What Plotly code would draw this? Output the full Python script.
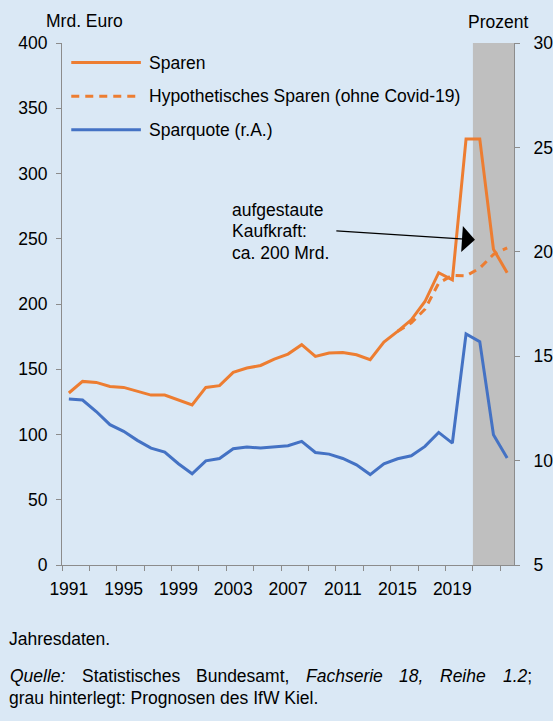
import plotly.graph_objects as go

# ---------------- data ----------------
years = list(range(1991, 2024))

sparen = [131.8, 140.7, 139.9, 136.8, 136.1, 133.0, 130.2, 130.2, 126.4, 122.6,
          136.1, 137.4, 147.6, 150.9, 152.9, 157.8, 161.6, 168.8, 159.8, 162.4,
          162.9, 161.1, 157.3, 170.8, 179.0, 187.9, 201.9, 224.0, 218.5, 326.5,
          326.5, 242.0, 224.0]

hypo_years = list(range(2015, 2024))
hypo_sparen = [179.0, 185.5, 196.0, 216.0, 222.0, 221.5, 227.5, 238.0, 243.0]

sparquote = [12.95, 12.9, 12.35, 11.72, 11.4, 10.97, 10.6, 10.41, 9.85, 9.37,
             9.99, 10.1, 10.57, 10.65, 10.6, 10.65, 10.71, 10.92, 10.39, 10.31,
             10.1, 9.8, 9.33, 9.85, 10.09, 10.23, 10.68, 11.35, 10.84, 16.07,
             15.7, 11.24, 10.12]

label_years = [1991, 1995, 1999, 2003, 2007, 2011, 2015, 2019]
left_ticks = [0, 50, 100, 150, 200, 250, 300, 350, 400]
right_ticks = [5, 10, 15, 20, 25, 30]
forecast_start, forecast_end = 2021, 2023

legend_names = ["Sparen", "Hypothetisches Sparen (ohne Covid-19)", "Sparquote (r.A.)"]

# ---------------- style ----------------
ORANGE = "#ED7D31"
BLUE = "#4472C4"
GREY = "#BFBFBF"
AXIS = "#8C8C8C"
BG = "#DAE8F5"
FONT = "Liberation Sans, Arial, sans-serif"
FS = 17.5

fig = go.Figure()

fig.add_trace(go.Scatter(x=years, y=sparen, mode="lines", name=legend_names[0],
                         line=dict(color=ORANGE, width=3), yaxis="y"))
fig.add_trace(go.Scatter(x=hypo_years, y=hypo_sparen, mode="lines", name=legend_names[1],
                         line=dict(color=ORANGE, width=3, dash="8px,6px"), yaxis="y"))
fig.add_trace(go.Scatter(x=years, y=sparquote, mode="lines", name=legend_names[2],
                         line=dict(color=BLUE, width=3), yaxis="y2"))

# forecast shading
fig.add_shape(type="rect", xref="x", yref="paper",
              x0=forecast_start - 0.5, x1=forecast_end + 0.5, y0=0, y1=1,
              fillcolor=GREY, line=dict(width=0), layer="below")

# manual legend
leg_y = [0.9625, 0.898, 0.834]
leg_styles = [dict(color=ORANGE, width=3),
              dict(color=ORANGE, width=3, dash="8px,6px"),
              dict(color=BLUE, width=3)]
for yy, st, name in zip(leg_y, leg_styles, legend_names):
    fig.add_shape(type="line", xref="paper", yref="paper",
                  x0=0.0205, x1=0.1745, y0=yy, y1=yy, line=st)
    fig.add_annotation(xref="paper", yref="paper", x=0.189, y=yy, text=name,
                       showarrow=False, xanchor="left", yanchor="middle",
                       font=dict(family=FONT, size=FS, color="black"))

# arrow annotation
fig.add_annotation(xref="x", yref="y", axref="x", ayref="y",
                   x=2020.65, y=249.2, ax=2010.42, ay=256.1, text="",
                   showarrow=True, arrowhead=1, arrowsize=3.6, arrowwidth=1.2,
                   arrowcolor="black")
for txt, yy in [("aufgestaute", 271.7), ("Kaufkraft:", 255.6), ("ca. 200 Mrd.", 239.0)]:
    fig.add_annotation(xref="x", yref="y", x=2002.77, y=yy, text=txt, showarrow=False,
                       xanchor="left", yanchor="middle",
                       font=dict(family=FONT, size=FS, color="black"))

def px_x(px):
    return (px - 62) / 452.5

def px_y(py):
    return (565 - py) / 522

# axis titles
fig.add_annotation(xref="paper", yref="paper", x=px_x(84.5), y=px_y(20.7),
                   text="Mrd. Euro", showarrow=False, xanchor="center", yanchor="middle",
                   font=dict(family=FONT, size=FS, color="black"))
fig.add_annotation(xref="paper", yref="paper", x=px_x(498), y=px_y(21.7),
                   text="Prozent", showarrow=False, xanchor="center", yanchor="middle",
                   font=dict(family=FONT, size=FS, color="black"))

# footnotes
fig.add_annotation(xref="paper", yref="paper", x=px_x(7), y=px_y(639.3), text="Jahresdaten.",
                   showarrow=False, xanchor="left", yanchor="middle",
                   font=dict(family=FONT, size=FS, color="black"))
words = [("<i>Quelle:</i>", 8), ("Statistisches", 79.7), ("Bundesamt,", 194.4),
         ("<i>Fachserie</i>", 304), ("<i>18,</i>", 397.8), ("<i>Reihe</i>", 438.5),
         ("<i>1.2</i>;", 501)]
for w, xx in words:
    fig.add_annotation(xref="paper", yref="paper", x=px_x(xx), y=px_y(676), text=w,
                       showarrow=False, xanchor="left", yanchor="middle",
                       font=dict(family=FONT, size=FS, color="black"))
fig.add_annotation(xref="paper", yref="paper", x=px_x(7), y=px_y(698.3),
                   text="grau hinterlegt: Prognosen des IfW Kiel.",
                   showarrow=False, xanchor="left", yanchor="middle",
                   font=dict(family=FONT, size=FS, color="black"))

fig.update_layout(
    width=553, height=721, autosize=False,
    margin=dict(l=62, r=39, t=43, b=156, pad=0, autoexpand=False),
    paper_bgcolor=BG, plot_bgcolor=BG,
    showlegend=False,
    font=dict(family=FONT, size=FS, color="black"),
    xaxis=dict(range=[1990.5, 2023.5], tickmode="array", tickvals=label_years,
               ticktext=[str(y) for y in label_years], ticks="", showgrid=False,
               zeroline=False, showline=True, linecolor=AXIS, linewidth=1,
               ticklabelstandoff=8, automargin=False,
               minor=dict(tickmode="linear", tick0=1990.5, dtick=2, ticks="outside",
                          ticklen=5, tickcolor=AXIS, showgrid=False)),
    yaxis=dict(range=[0, 400], tickmode="array", tickvals=left_ticks, ticks="outside",
               ticklen=5, tickcolor=AXIS, showgrid=False, zeroline=False, showline=True,
               linecolor=AXIS, linewidth=1, ticklabelstandoff=5, automargin=False),
    yaxis2=dict(range=[5, 30], tickmode="array", tickvals=right_ticks, ticks="outside",
                ticklen=5, tickcolor=AXIS, showgrid=False, zeroline=False, showline=True,
                linecolor=AXIS, linewidth=1, overlaying="y", side="right",
                ticklabelstandoff=10, automargin=False),
)

fig.write_html("out.html",
               config={"displayModeBar": False, "responsive": False},
               post_script="document.body.style.margin='0';"
                           "document.documentElement.style.overflow='hidden';")
